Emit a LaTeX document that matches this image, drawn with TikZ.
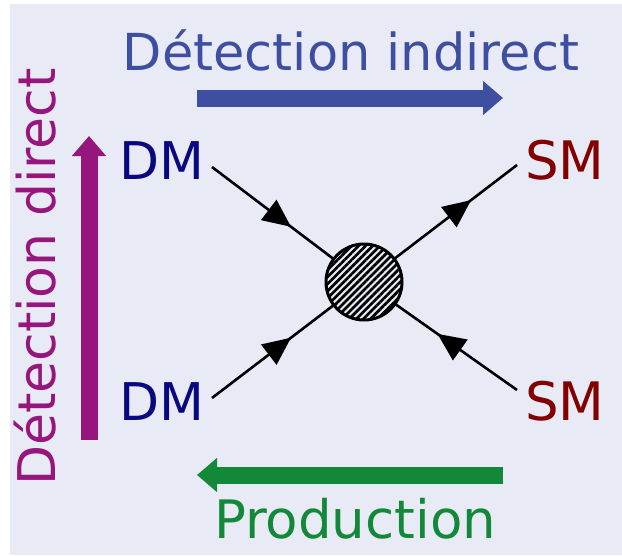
\documentclass[tikz,border=0pt]{standalone}
\usepackage{fontspec}
\setmainfont{DejaVu Sans}
\usetikzlibrary{arrows.meta,decorations.markings,patterns.meta}
\definecolor{bgc}{RGB}{232,235,245}
\definecolor{blueC}{RGB}{62,79,161}
\definecolor{magC}{RGB}{150,22,125}
\definecolor{greenC}{RGB}{18,137,56}
\definecolor{dmC}{RGB}{8,8,128}
\definecolor{smC}{RGB}{130,0,0}
\tikzset{
  bigarrow/.style={line width=17pt,-{Triangle[length=20pt,width=33pt]}},
  label/.style={inner sep=0pt,font=\fontsize{52pt}{60pt}\selectfont},
  fermion/.style={line width=2.6pt},
  fhead/.style={postaction={decorate},decoration={markings,mark=at position #1 with {\arrow{Triangle[length=28pt,width=25pt]}}}},
  blob/.style={circle,draw,line width=3pt,minimum size=76pt,inner sep=0pt,
    preaction={fill=bgc},pattern={Lines[angle=45,distance=5pt,line width=2.7pt]}}
}
\begin{document}
\begin{tikzpicture}[x=1pt,y=-1pt]
\useasboundingbox (0,0) rectangle (622,555);
\fill[bgc] (10,4) rectangle (622,555);
% labels
\node[label,blueC,anchor=base,font=\fontsize{51pt}{60pt}\selectfont] (ti) at (351,70) {Détection indirect};
\node[label,greenC,anchor=base,font=\fontsize{53pt}{60pt}\selectfont] (pr) at (355,538) {Production};
\node[label,magC,anchor=base,rotate=90] (dd) at (55,277) {Détection direct};
\node[label,dmC,anchor=base east] (dm1) at (205,179) {DM};
\node[label,dmC,anchor=base east] (dm2) at (205,420) {DM};
\node[label,smC,anchor=base west,font=\fontsize{53pt}{60pt}\selectfont] (sm1) at (525,179) {SM};
\node[label,smC,anchor=base west,font=\fontsize{53pt}{60pt}\selectfont] (sm2) at (525,420) {SM};
% big arrows
\coordinate (ba1) at (197,98);
\coordinate (ba2) at (503,98);
\coordinate (ga1) at (503,475);
\coordinate (ga2) at (197,475);
\coordinate (ma1) at (89,440);
\coordinate (ma2) at (89,136);
\draw[bigarrow,blueC] (ba1) -- (ba2);
\draw[bigarrow,greenC] (ga1) -- (ga2);
\draw[bigarrow,magC] (ma1) -- (ma2);
% fermion lines
\coordinate (c) at (364,282);
\coordinate (tl) at (212,167);
\coordinate (bl) at (212,398);
\coordinate (tr) at (517,165);
\coordinate (br) at (517,390);
\draw[fermion,fhead=0.52] (tl) -- (c);
\draw[fermion,fhead=0.52] (bl) -- (c);
\draw[fermion,fhead=0.52] (br) -- (c);
\draw[fermion,fhead=0.70] (c) -- (tr);
\node[blob] (v) at (c) {};
\end{tikzpicture}
\end{document}
